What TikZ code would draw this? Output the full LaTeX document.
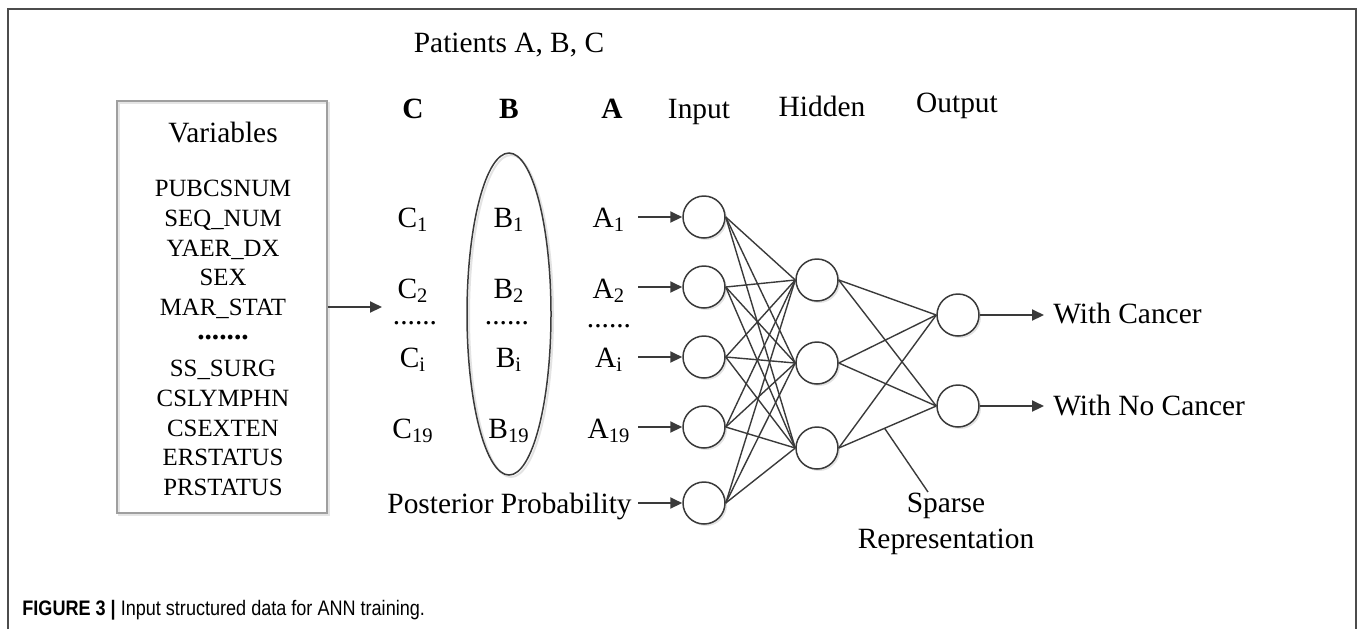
\documentclass[tikz,border=0pt]{standalone}
\usepackage{fontspec}
\setmainfont{Liberation Serif}
\newfontfamily\capfont{Liberation Sans}
\usetikzlibrary{shapes.geometric,arrows.meta,calc}
\definecolor{ln}{HTML}{3A3A3A}
\begin{document}
\begin{tikzpicture}[x=0.5pt,y=-0.5pt,
  big/.style={font=\fontsize{14.7}{17}\selectfont, inner sep=0pt, text=black},
  hdr/.style={font=\fontsize{14.7}{17}\selectfont\bfseries, inner sep=0pt},
  lst/.style={font=\fontsize{12.4}{14}\selectfont, inner sep=0pt},
  dotrow/.style={text height=1.5pt, text depth=0pt},
  neuron/.style={circle,draw=ln,line width=0.75pt,minimum size=21pt,inner sep=0pt,fill=white,
    preaction={fill=gray!22, transform canvas={xshift=1pt,yshift=-1pt}}},
  conn/.style={draw=ln,line width=0.7pt},
  arr/.style={draw=ln,line width=1pt,-{Triangle[length=6pt,width=5.5pt]}},
]
\useasboundingbox (0,0) rectangle (1358,629);
\draw[gray!60!black, line width=0.8pt] (8,629) -- (8,9) -- (1356,9) -- (1356,629);

\node[big, anchor=base] (pat) at (509,52) {Patients A, B, C};

% variables box
\node[draw=gray!75, line width=0.6pt, minimum width=105pt, minimum height=206pt, inner sep=0pt,
  preaction={draw=gray!20, line width=1pt, transform canvas={xshift=1pt,yshift=-1pt}}] (box) at (222,307) {};
\node[big, anchor=base] (var) at (223,142) {Variables};
\foreach \t/\y [count=\n] in {PUBCSNUM/188, SEQ\_NUM/218, YAER\_DX/248, SEX/277, MAR\_STAT/307, SS\_SURG/368, CSLYMPHN/398, CSEXTEN/428, ERSTATUS/457, PRSTATUS/487}
  \node[lst, anchor=base] (v\n) at (223,\y+8.5) {\t};
\node[hdr, dotrow, anchor=base] (vdots) at (223,339) {.......};

% headers
\node[hdr, anchor=base] (hC) at (413,118) {C};
\node[hdr, anchor=base] (hB) at (509,118) {B};
\node[hdr, anchor=base] (hA) at (612,118) {A};
\node[big, anchor=base] (hI) at (699,118) {Input};
\node[big, anchor=base] (hH) at (822,116) {Hidden};
\node[big, anchor=base] (hO) at (957,112) {Output};

% ellipse
\node[ellipse, draw=ln, line width=0.75pt, minimum width=42pt, minimum height=161pt, inner sep=0pt,
  preaction={draw=gray!22, line width=1pt, transform canvas={xshift=1pt,yshift=-1pt}}] (ell) at (509,314) {};

% column labels
\foreach \l/\x in {C/413, B/509, A/609}{
  \node[big, anchor=base] (\l1) at (\x,227) {\l\textsubscript{1}};
  \node[big, anchor=base] (\l2) at (\x,298) {\l\textsubscript{2}};
  \node[big, anchor=base] (\l i) at (\x,367) {\l\textsubscript{i}};
  \node[big, anchor=base] (\l19) at (\x,438) {\l\textsubscript{19}};
}
\node[big, dotrow, anchor=base] (Cd) at (415,324) {......};
\node[big, dotrow, anchor=base] (Bd) at (507,324) {......};
\node[big, dotrow, anchor=base] (Ad) at (609,327) {......};

\node[big, inner xsep=3pt, anchor=base east] (post) at (638,513) {Posterior Probability};

% arrow from box
\coordinate (bxt) at (382,307);
\draw[arr] (box.east |- bxt) -- (bxt);

% neurons
\foreach \y [count=\i] in {217,287,357,427,503}
  \node[neuron] (I\i) at (704,\y) {};
\foreach \y [count=\i] in {280,363,448}
  \node[neuron] (H\i) at (817,\y) {};
\foreach \y [count=\i] in {315,406}
  \node[neuron] (O\i) at (958,\y) {};

\foreach \i in {1,...,5}
  \foreach \j in {1,2,3}
    \draw[conn] (I\i.east) -- (H\j.west);
\foreach \j in {1,2,3}
  \foreach \k in {1,2}
    \draw[conn] (H\j.east) -- (O\k.west);

\foreach \i in {1,...,5}
  \draw[arr] (I\i.west -| post.east) -- (I\i.west);

\node[big, inner xsep=4.5pt, anchor=base west] (wc) at (1044,323) {With Cancer};
\node[big, inner xsep=4.5pt, anchor=base west] (wnc) at (1044,415) {With No Cancer};
\draw[arr] (O1.east) -- (O1.east -| wc.west);
\draw[arr] (O2.east) -- (O2.east -| wnc.west);

% sparse representation
\node[align=center, font=\fontsize{14.7}{18}\selectfont, inner sep=0pt, anchor=north] (sp) at (946,493) {Sparse\\Representation};
\path (H3.east) -- (O2.west) coordinate[pos=0.47] (spt);
\draw[conn] (spt) -- ($(sp.north)+(-18,-1)$);

% caption
\node[anchor=west, inner sep=0pt, font=\capfont\fontsize{10.5}{12}\selectfont] (cap) at (22,610) {\scalebox{0.86}[1]{\textbf{FIGURE 3 |} Input structured data for ANN training.}};
\end{tikzpicture}
\end{document}
